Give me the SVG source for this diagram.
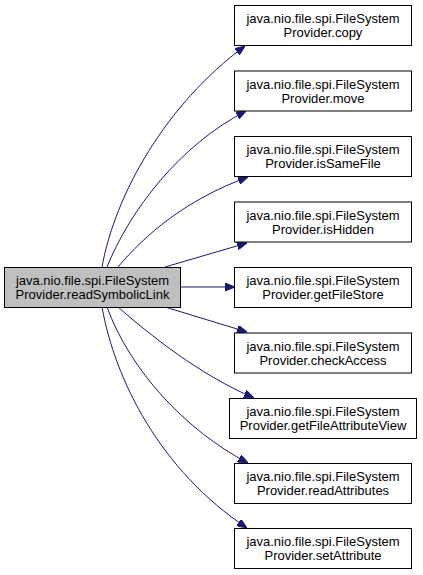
<svg xmlns="http://www.w3.org/2000/svg" width="423" height="575" viewBox="0 0 423 575">
<style>
.box{fill:#ffffff;stroke:#000000;stroke-width:1}
.root{fill:#bfbfbf;stroke:#000000;stroke-width:1}
text{font-family:"Liberation Sans",Arial,sans-serif;font-size:13px;fill:#000000;text-anchor:middle}
.edge{fill:none;stroke:#191970;stroke-width:1}
</style>
<defs>
<marker id="ah" viewBox="0 0 10 8" refX="10" refY="4" markerWidth="10" markerHeight="8" orient="auto" markerUnits="userSpaceOnUse">
<path d="M0,0 L10,4 L0,8 Z" fill="#191970" stroke="#191970"/>
</marker>
</defs>
<rect width="423" height="575" fill="#ffffff"/>
<g id="edges">
<path class="edge" marker-end="url(#ah)" d="M102,267 C115,195 165,105 245,46"/>
<path class="edge" marker-end="url(#ah)" d="M107,267 C130,210 180,145 246,111"/>
<path class="edge" marker-end="url(#ah)" d="M118,267 C145,235 185,200 248,177"/>
<path class="edge" marker-end="url(#ah)" d="M165,267 L247,243"/>
<path class="edge" marker-end="url(#ah)" d="M181,287 L235,287"/>
<path class="edge" marker-end="url(#ah)" d="M165,307 L247,332"/>
<path class="edge" marker-end="url(#ah)" d="M118,307 C150,335 200,375 254,398"/>
<path class="edge" marker-end="url(#ah)" d="M107,307 C130,370 185,430 248,463"/>
<path class="edge" marker-end="url(#ah)" d="M102,307 C115,380 160,470 247,528"/>
</g>
<g id="readSymbolicLink">
<rect class="root" x="4.5" y="267.5" width="176" height="40"/>
<text x="92.5" y="285">java.nio.file.spi.FileSystem</text>
<text x="92.5" y="299">Provider.readSymbolicLink</text>
</g>
<g id="copy">
<rect class="box" x="234.5" y="5.5" width="177" height="40"/>
<text x="323" y="23">java.nio.file.spi.FileSystem</text>
<text x="323" y="37">Provider.copy</text>
</g>
<g id="move">
<rect class="box" x="234.5" y="71" width="177" height="40"/>
<text x="323" y="88.5">java.nio.file.spi.FileSystem</text>
<text x="323" y="102.5">Provider.move</text>
</g>
<g id="isSameFile">
<rect class="box" x="234.5" y="136.5" width="177" height="40"/>
<text x="323" y="154">java.nio.file.spi.FileSystem</text>
<text x="323" y="168">Provider.isSameFile</text>
</g>
<g id="isHidden">
<rect class="box" x="234.5" y="202" width="177" height="40"/>
<text x="323" y="219.5">java.nio.file.spi.FileSystem</text>
<text x="323" y="233.5">Provider.isHidden</text>
</g>
<g id="getFileStore">
<rect class="box" x="234.5" y="267.5" width="177" height="40"/>
<text x="323" y="285">java.nio.file.spi.FileSystem</text>
<text x="323" y="299">Provider.getFileStore</text>
</g>
<g id="checkAccess">
<rect class="box" x="234.5" y="333" width="177" height="40"/>
<text x="323" y="350.5">java.nio.file.spi.FileSystem</text>
<text x="323" y="364.5">Provider.checkAccess</text>
</g>
<g id="getFileAttributeView">
<rect class="box" x="229.5" y="398.5" width="187" height="40"/>
<text x="323" y="416">java.nio.file.spi.FileSystem</text>
<text x="323" y="430">Provider.getFileAttributeView</text>
</g>
<g id="readAttributes">
<rect class="box" x="234.5" y="463.5" width="177" height="40"/>
<text x="323" y="481">java.nio.file.spi.FileSystem</text>
<text x="323" y="495">Provider.readAttributes</text>
</g>
<g id="setAttribute">
<rect class="box" x="234.5" y="528.5" width="177" height="40"/>
<text x="323" y="546">java.nio.file.spi.FileSystem</text>
<text x="323" y="560">Provider.setAttribute</text>
</g>
</svg>
